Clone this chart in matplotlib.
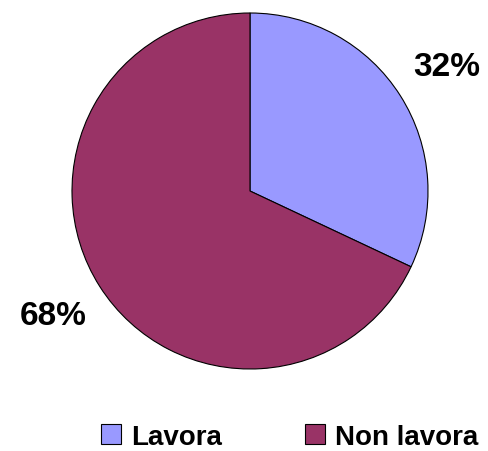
import matplotlib.pyplot as plt
from matplotlib.patches import Patch

labels = ["Lavora", "Non lavora"]
values = [32, 68]
colors = ["#9999FF", "#993366"]

plt.rcParams['font.family'] = ['Liberation Sans', 'DejaVu Sans']

fig = plt.figure(figsize=(4.89, 4.52), dpi=100)
ax = fig.add_axes([72 / 489, 82 / 452, 356 / 489, 356 / 452])

wedges, texts = ax.pie(values, colors=colors, startangle=90, counterclock=False,
                       labels=[f"{v}%" for v in values], labeldistance=1.31,
                       wedgeprops=dict(edgecolor="black", linewidth=0.8),
                       textprops=dict(fontsize=24, fontweight="bold"))
for t in texts:
    t.set_ha("center")
    t.set_va("center")
ax.set_xlim(-1, 1)
ax.set_ylim(-1, 1)
ax.set_aspect("equal")

handles = [Patch(facecolor=c, edgecolor="black", linewidth=0.8) for c in colors]
fig.legend(handles, labels, loc="center", bbox_to_anchor=(290 / 489, 1 - 438 / 452),
           ncol=2, frameon=False, prop=dict(size=20, weight="bold"),
           handlelength=0.72, handleheight=0.72, handletextpad=0.36, columnspacing=3.0)

fig.savefig("out.png", dpi=100)
